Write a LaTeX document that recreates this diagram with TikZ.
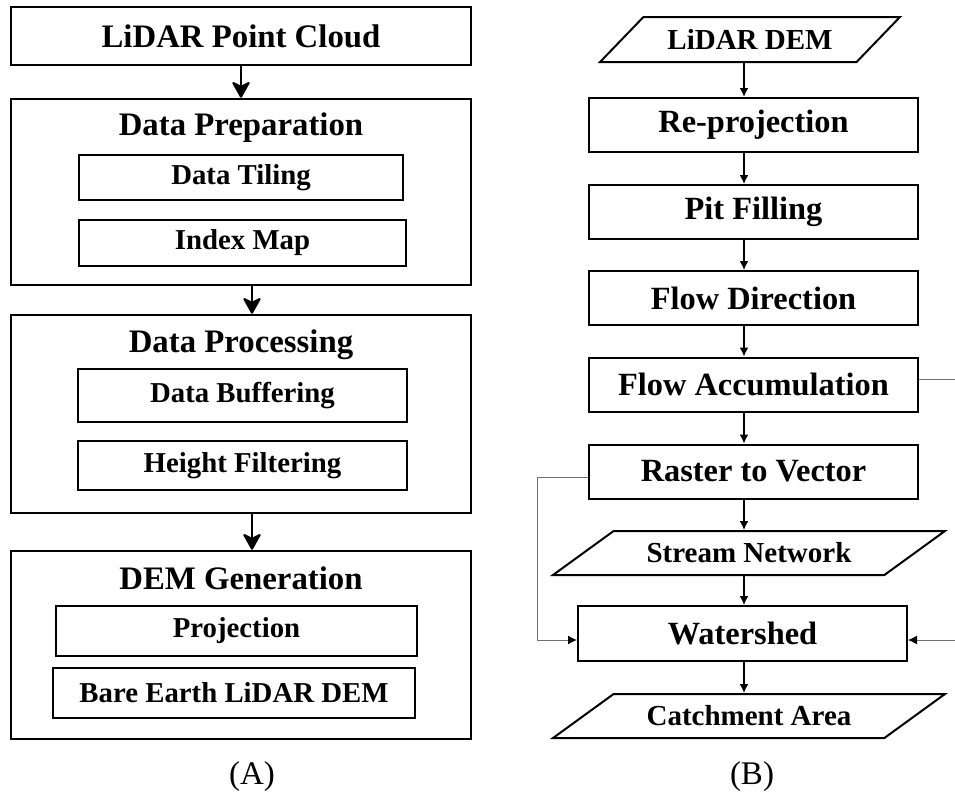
\documentclass[tikz,border=0pt]{standalone}
\usepackage{fontspec}
\setmainfont{Liberation Serif}
\usepackage{tikz}
\usetikzlibrary{arrows.meta, positioning, calc, shapes.geometric}
\definecolor{LineGray}{RGB}{110,110,110}
\tikzset{
  >=latex,
  % Riquadri del pannello (A)
  outer box/.style={draw,line width=1.3pt,rectangle,inner sep=0pt,minimum width=230pt},
  inner box/.style={draw,line width=1.2pt,rectangle,inner sep=0pt,
    font=\fontsize{14.4}{16}\selectfont\bfseries},
  group title/.style={inner sep=0pt,font=\fontsize{16.4}{18}\selectfont\bfseries},
  % Riquadri del pannello (B)
  step box/.style={draw,line width=1pt,rectangle,inner sep=0pt,minimum width=164.5pt,
    minimum height=27pt,font=\fontsize{16.2}{18}\selectfont\bfseries},
  io box/.style={draw,line width=1pt,trapezium,trapezium stretches=true,inner sep=0pt,
    font=\fontsize{14.5}{16}\selectfont\bfseries},
  % Connessioni
  big arrow/.style={-{Stealth[length=9pt,width=10pt,inset=2.5pt,line width=1pt,round]},line width=1.3pt},
  connect arrow/.style={-{Latex[length=4.5pt,width=4.5pt]},line width=0.8pt},
  connect side/.style={-{Latex[length=4.5pt,width=4.5pt,black]},line width=0.5pt,LineGray},
  panel label/.style={inner sep=0pt,font=\fontsize{16.5}{18}\selectfont}
}
\begin{document}
\begin{tikzpicture}[x=0.5pt,y=-0.5pt]
  \useasboundingbox (0,0) rectangle (955,794);
  % (A) pannello sinistro
  \node[outer box,minimum height=29pt] (cloud) at (241,36)
    {\fontsize{16.4}{18}\selectfont\bfseries LiDAR Point Cloud};
  \node[outer box,minimum height=93pt] (prep) at (241,192) {};
  \node[group title] (preptitle) at (241,128) {Data Preparation};
  \node[inner box,minimum width=162pt,minimum height=22.5pt] (tiling) at (241,177.5) {Data Tiling};
  \node[inner box,minimum width=163.5pt,minimum height=23pt] (index) at (242.5,243) {Index Map};

  \node[outer box,minimum height=99pt] (proc) at (241,414) {};
  \node[group title] (proctitle) at (241,345) {Data Processing};
  \node[inner box,minimum width=164.5pt,minimum height=26.5pt] (buffer) at (242.5,395.5) {Data Buffering};
  \node[inner box,minimum width=164.5pt,minimum height=24.5pt] (height) at (242.5,465.5) {Height Filtering};

  \node[outer box,minimum height=94pt] (demgen) at (241,645) {};
  \node[group title] (demtitle) at (241,578) {DEM Generation};
  \node[inner box,minimum width=180.5pt,minimum height=25pt] (proj) at (236.5,631) {Projection};
  \node[inner box,minimum width=181pt,minimum height=25pt] (bare) at (234,693) {Bare Earth LiDAR DEM};

  \coordinate (axA) at (252,0);
  \draw[big arrow] (cloud.south) -- (prep.north);
  \draw[big arrow] (prep.south -| axA) -- (proc.north -| axA);
  \draw[big arrow] (proc.south -| axA) -- (demgen.north -| axA);
  \node[panel label] (labA) at (252,777) {(A)};

  % (B) pannello destro
  \node[io box,trapezium left angle=31,trapezium right angle=149,
    minimum width=150pt,minimum height=22.5pt] (lidem) at (750,39.5) {LiDAR DEM};
  \node[step box] (reproj) at (753.5,125) {Re-projection};
  \node[step box] (pit) at (753.5,212) {Pit Filling};
  \node[step box] (fdir) at (753.5,298) {Flow Direction};
  \node[step box] (facc) at (753.5,384.5) {Flow Accumulation};
  \node[step box] (rtov) at (753.5,471.5) {Raster to Vector};
  \node[io box,trapezium left angle=24,trapezium right angle=156,
    minimum width=196pt,minimum height=22pt] (stream) at (749,553) {Stream Network};
  \node[step box,minimum height=27.5pt] (shed) at (742.5,633.5) {Watershed};
  \node[io box,trapezium left angle=24,trapezium right angle=156,
    minimum width=196pt,minimum height=22pt] (catch) at (749,716) {Catchment Area};

  \coordinate (axB) at (744,0);
  \foreach \a/\b in {lidem/reproj,reproj/pit,pit/fdir,fdir/facc,facc/rtov,rtov/stream,stream/shed,shed/catch}
    \draw[connect arrow] (\a.south -| axB) -- (\b.north -| axB);

  % rami laterali
  \coordinate (leftx) at (537,0);
  \coordinate (rightx) at (960,0);
  \draw[connect side] ([yshift=-2.75pt]rtov.west) -| ([yshift=-3.25pt]leftx |- shed.west)
    -- ([yshift=-3.25pt]shed.west);
  \draw[connect side] ([yshift=2.75pt]facc.east) -| ([yshift=-3.25pt]rightx |- shed.east)
    -- ([yshift=-3.25pt]shed.east);
  \node[panel label] (labB) at (752,777) {(B)};
\end{tikzpicture}
\end{document}
